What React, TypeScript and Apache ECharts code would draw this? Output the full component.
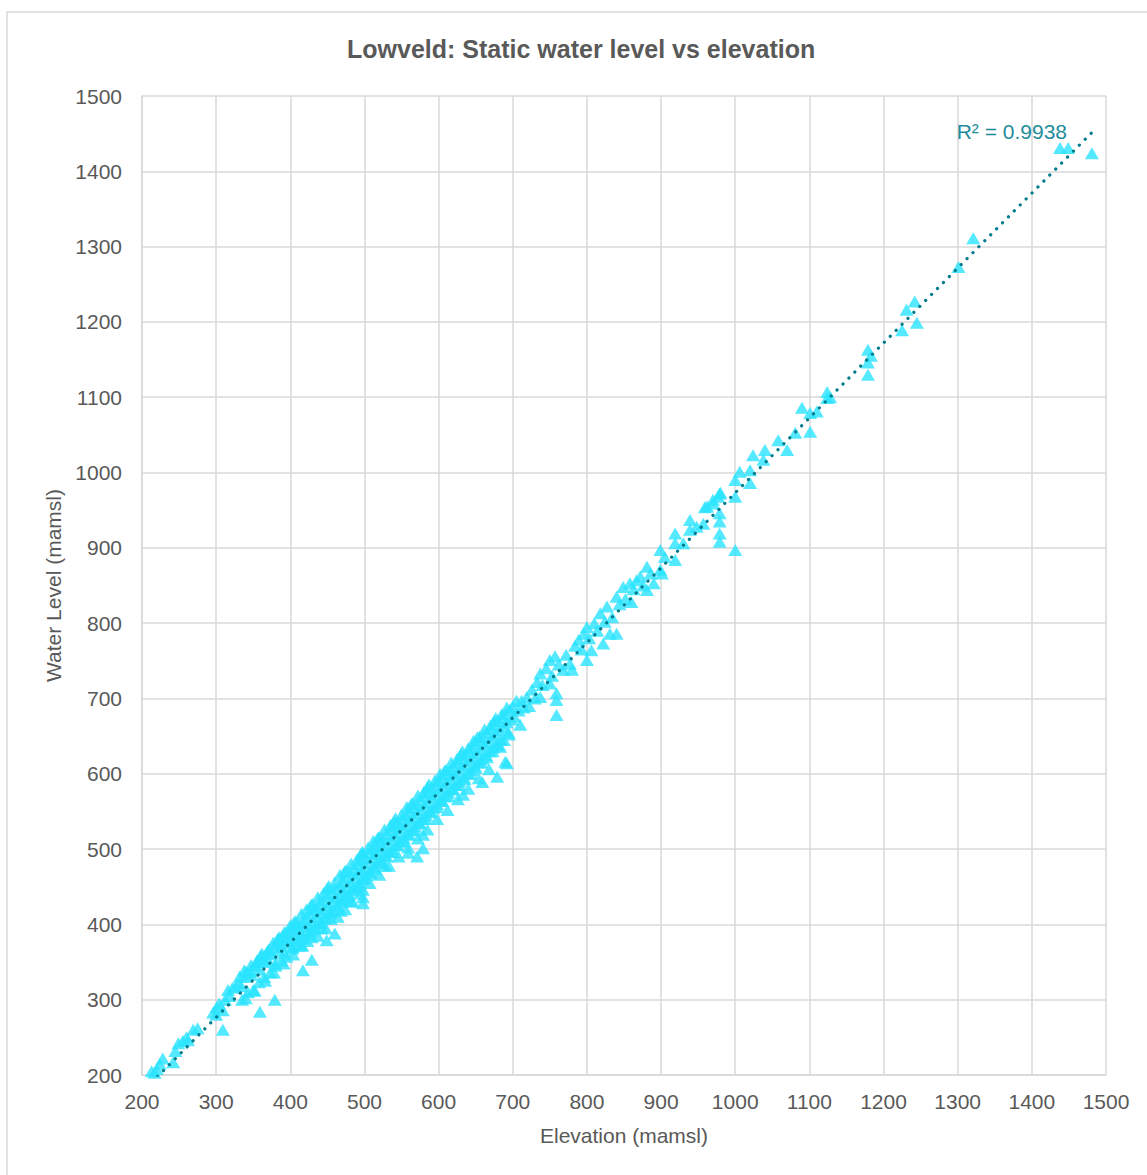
import React, { useEffect, useRef } from "react";
import * as echarts from "echarts";

const chartTitle = "Lowveld: Static water level vs elevation";
const xAxisName = "Elevation (mamsl)";
const yAxisName = "Water Level (mamsl)";
const rSquaredLabel = "R² = 0.9938";

// [elevation, water level] pairs
const lowWells: [number, number][] = [
  [213, 205], [217, 203], [220, 208], [224, 215], [228, 222], [242, 217], [245, 232], [249, 242],
  [255, 245], [260, 250], [262, 246], [269, 260], [275, 262], [296, 283], [300, 280], [301, 290],
  [304, 295], [309, 260], [309, 286], [312, 300], [316, 313], [318, 305], [322, 316], [326, 318],
  [330, 322], [334, 318], [338, 330], [342, 335], [346, 338], [348, 333], [352, 345], [355, 350],
  [359, 284], [358, 340], [362, 355], [365, 350], [368, 362], [370, 352], [372, 367], [375, 360],
  [378, 370], [379, 300], [380, 348], [382, 375], [385, 365], [386, 380], [388, 372], [390, 385],
  [392, 362], [394, 380], [396, 390], [398, 375], [400, 395], [401, 382], [403, 370], [405, 398],
  [407, 388], [408, 378], [410, 402], [412, 392], [414, 383], [415, 372], [417, 339], [417, 405],
  [418, 398], [420, 388], [422, 410], [423, 378], [425, 400], [427, 415], [428, 392], [429, 353],
  [430, 420], [431, 405], [433, 395], [435, 422], [436, 410], [437, 385], [439, 428], [440, 415],
  [442, 402], [444, 432], [445, 420], [446, 408], [448, 395], [449, 379], [450, 438], [451, 425],
  [453, 415], [455, 442], [456, 430], [458, 418], [460, 388], [460, 448], [461, 436], [463, 425],
  [464, 410], [466, 452], [467, 440], [469, 430], [470, 458], [471, 445], [473, 435], [474, 420],
  [476, 462], [477, 450], [479, 440], [480, 470], [481, 456], [483, 445], [484, 430], [486, 474],
  [487, 462], [489, 450], [490, 480], [491, 468], [493, 455], [495, 485], [496, 472], [497, 460],
  [498, 495], [498, 446], [498, 436], [498, 428],
];

const midWells: [number, number][] = [
  [500, 488], [501, 476], [503, 465], [505, 495], [506, 482], [508, 470], [510, 500], [511, 488],
  [512, 476], [514, 505], [515, 494], [517, 482], [519, 510], [520, 498], [522, 486], [524, 515],
  [525, 503], [527, 492], [528, 478], [530, 520], [531, 508], [533, 496], [535, 525], [536, 513],
  [538, 500], [540, 530], [541, 518], [543, 505], [545, 535], [546, 522], [548, 510], [550, 540],
  [551, 528], [553, 515], [555, 545], [556, 532], [558, 520], [559, 495], [560, 550], [561, 538],
  [563, 525], [565, 555], [566, 542], [568, 530], [570, 560], [571, 490], [571, 548], [573, 535],
  [575, 565], [576, 552], [578, 540], [579, 519], [579, 501], [580, 570], [581, 558], [583, 545],
  [585, 575], [586, 562], [588, 550], [590, 580], [591, 568], [593, 555], [595, 585], [596, 572],
  [598, 560], [600, 590], [601, 578], [603, 565], [605, 595], [606, 582], [608, 570], [610, 600],
  [611, 588], [613, 575], [615, 605], [616, 592], [618, 580], [620, 610], [621, 598], [623, 585],
  [625, 615], [626, 602], [628, 590], [630, 620], [631, 608], [633, 572], [634, 595], [635, 625],
  [637, 612], [639, 600], [640, 630], [642, 618], [644, 605], [645, 635], [647, 622], [649, 610],
  [650, 640], [652, 628], [654, 615], [655, 645], [657, 632], [659, 589], [659, 620], [660, 650],
  [662, 638], [664, 625], [665, 655], [667, 642], [669, 630], [670, 660], [672, 648], [674, 635],
  [675, 665], [677, 652], [679, 596], [679, 640], [680, 670], [682, 658], [684, 645], [686, 675],
  [688, 662], [690, 616], [690, 680], [692, 668], [694, 655], [696, 685], [698, 672],
];

const bandUpperEdge: [number, number][] = [
  [332, 331], [340, 337], [347, 346], [355, 352], [362, 361], [370, 366], [377, 376], [385, 383],
  [392, 390], [400, 399], [407, 404], [415, 414], [422, 420], [430, 427], [437, 436], [445, 442],
  [452, 451], [460, 456], [467, 466], [475, 472], [482, 481], [490, 486], [497, 496], [505, 502],
  [512, 511], [520, 516], [527, 526], [535, 532], [542, 541], [550, 546], [557, 556], [565, 561],
  [572, 571], [580, 576], [587, 586], [595, 591], [602, 600], [610, 605], [617, 615], [625, 620],
  [632, 630], [640, 634], [647, 644], [655, 649], [662, 659], [670, 664], [677, 674], [685, 679],
  [692, 688], [338, 339], [360, 359], [383, 381], [405, 403], [428, 426], [450, 448], [473, 470],
  [495, 493], [518, 515], [540, 537], [563, 560], [585, 582], [608, 604], [630, 626], [652, 648],
  [675, 670],
];

const bandLowerEdge: [number, number][] = [
  [335, 300], [343, 310], [350, 313], [358, 323], [365, 330], [373, 336], [380, 345], [388, 352],
  [395, 357], [403, 368], [410, 372], [418, 381], [425, 388], [433, 395], [440, 402], [448, 410],
  [455, 417], [463, 424], [470, 432], [478, 438], [485, 447], [493, 452], [500, 461], [508, 468],
  [515, 474], [523, 482], [530, 490], [538, 496], [545, 505], [553, 510], [560, 519], [568, 525],
  [575, 534], [583, 540], [590, 549], [598, 556], [605, 564], [613, 570], [620, 579], [628, 585],
  [635, 593], [643, 600], [650, 608], [658, 615], [665, 622], [673, 630], [680, 638], [688, 645],
  [695, 652], [340, 302], [352, 312], [366, 325], [378, 336], [391, 348], [404, 360], [416, 372],
  [429, 383], [442, 395], [455, 407], [468, 418], [481, 431], [494, 441], [507, 455], [520, 466],
  [533, 478], [546, 490], [559, 502], [572, 514], [585, 526], [598, 540], [612, 552], [626, 566],
  [640, 580], [654, 594], [668, 606],
];

const upperWells: [number, number][] = [
  [683, 636], [692, 614], [700, 690], [702, 676], [705, 697], [708, 684], [710, 665], [712, 697],
  [715, 688], [719, 702], [722, 690], [726, 712], [730, 700], [733, 722], [737, 733], [737, 702],
  [740, 718], [745, 740], [750, 751], [750, 720], [753, 730], [757, 756], [759, 707], [759, 698],
  [759, 678], [762, 745], [768, 738], [772, 758], [777, 746], [780, 738], [784, 770], [789, 778],
  [793, 765], [796, 786], [800, 795], [800, 751], [803, 780], [806, 764], [810, 800], [814, 790],
  [818, 813], [822, 773], [824, 802], [827, 822], [831, 786], [834, 808], [840, 786], [840, 835],
  [844, 825], [849, 848], [852, 832], [858, 853], [860, 828], [863, 845], [867, 857], [872, 862],
  [876, 850], [881, 875], [881, 844], [886, 866], [890, 853], [899, 897], [899, 871], [901, 866],
  [905, 888],
];

const highWells: [number, number][] = [
  [919, 919], [919, 906], [919, 884], [930, 906], [939, 937], [939, 924], [948, 928], [957, 932],
  [959, 954], [962, 955], [970, 959], [970, 964], [977, 968], [979, 972], [979, 946], [979, 935],
  [979, 919], [979, 908], [980, 973], [1000, 990], [1000, 968], [1000, 897], [1006, 1001],
  [1020, 1003], [1020, 986], [1024, 1023], [1038, 1017], [1040, 1030], [1058, 1043], [1070, 1030],
  [1081, 1053], [1090, 1086], [1101, 1054], [1101, 1079], [1110, 1081], [1124, 1107], [1124, 1099],
  [1128, 1100], [1179, 1163], [1179, 1146], [1179, 1130], [1183, 1155], [1225, 1189], [1231, 1216],
  [1242, 1227], [1245, 1199], [1301, 1273], [1321, 1311], [1438, 1431], [1449, 1431], [1481, 1424],
];

const axisTicks = [200, 1500, 100];

export default function App() {
  const ref = useRef<HTMLDivElement>(null);
  useEffect(() => {
    document.body.style.margin = "0";
    const chart = echarts.init(ref.current!, null, { renderer: "svg" });
    const all = [...lowWells, ...midWells, ...bandUpperEdge, ...bandLowerEdge, ...upperWells, ...highWells];
    const n = all.length;
    let sx = 0, sy = 0, sxx = 0, sxy = 0;
    for (const [x, y] of all) { sx += x; sy += y; sxx += x * x; sxy += x * y; }
    const slope = (n * sxy - sx * sy) / (n * sxx - sx * sx);
    const intercept = (sy - slope * sx) / n;
    const xs = all.map((p) => p[0]);
    const xMin = Math.min(...xs);
    const xMax = Math.max(...xs);
    const trend = [[xMin, slope * xMin + intercept], [xMax, slope * xMax + intercept]];
    const font = "'Liberation Sans', Arial, sans-serif";
    const axisCommon = {
      type: "value",
      min: axisTicks[0],
      max: axisTicks[1],
      interval: axisTicks[2],
      axisLine: { show: true, lineStyle: { color: "#d9d9d9", width: 1.5 } },
      axisTick: { show: false },
      splitLine: { show: true, lineStyle: { color: "#d9d9d9", width: 1.5 } },
      nameLocation: "middle",
      nameTextStyle: { color: "#595959", fontSize: 21, fontFamily: font },
    };
    const labelStyle = { color: "#595959", fontSize: 21, fontFamily: font, formatter: (v: number) => String(v) };
    chart.setOption({
      animation: false,
      backgroundColor: "#ffffff",
      title: {
        text: chartTitle,
        left: 342,
        top: 31,
        textStyle: { color: "#595959", fontSize: 25, fontWeight: "bold", fontFamily: font },
      },
      grid: { left: 142, right: 41, top: 96, bottom: 100 },
      xAxis: {
        ...axisCommon,
        name: xAxisName,
        nameGap: 50,
        axisLabel: { ...labelStyle, margin: 16 },
      },
      yAxis: {
        ...axisCommon,
        name: yAxisName,
        nameGap: 76,
        axisLabel: { ...labelStyle, margin: 20 },
      },
      graphic: [
        {
          type: "rect",
          shape: { x: 7, y: 12, width: 1160, height: 1180 },
          style: { fill: "none", stroke: "#d9d9d9", lineWidth: 1.5 },
          silent: true,
          z: -10,
        },
        {
          type: "text",
          x: 1067,
          y: 131,
          style: {
            text: rSquaredLabel,
            fill: "#1f8c9c",
            fontSize: 21,
            fontFamily: font,
            align: "right",
            verticalAlign: "middle",
          },
          z: 100,
        },
      ],
      series: [
        {
          type: "scatter",
          data: all,
          symbol: "triangle",
          symbolSize: [14, 12],
          itemStyle: { color: "#29e3ff" },
          z: 2,
        },
        {
          type: "line",
          data: trend,
          symbol: "none",
          lineStyle: { color: "#007c8c", width: 3.2, type: [0.1, 8.3], cap: "round" },
          z: 3,
        },
      ],
    });
    return () => chart.dispose();
  }, []);
  return <div ref={ref} style={{ width: 1147, height: 1175, position: "absolute", left: 0, top: 0 }} />;
}
